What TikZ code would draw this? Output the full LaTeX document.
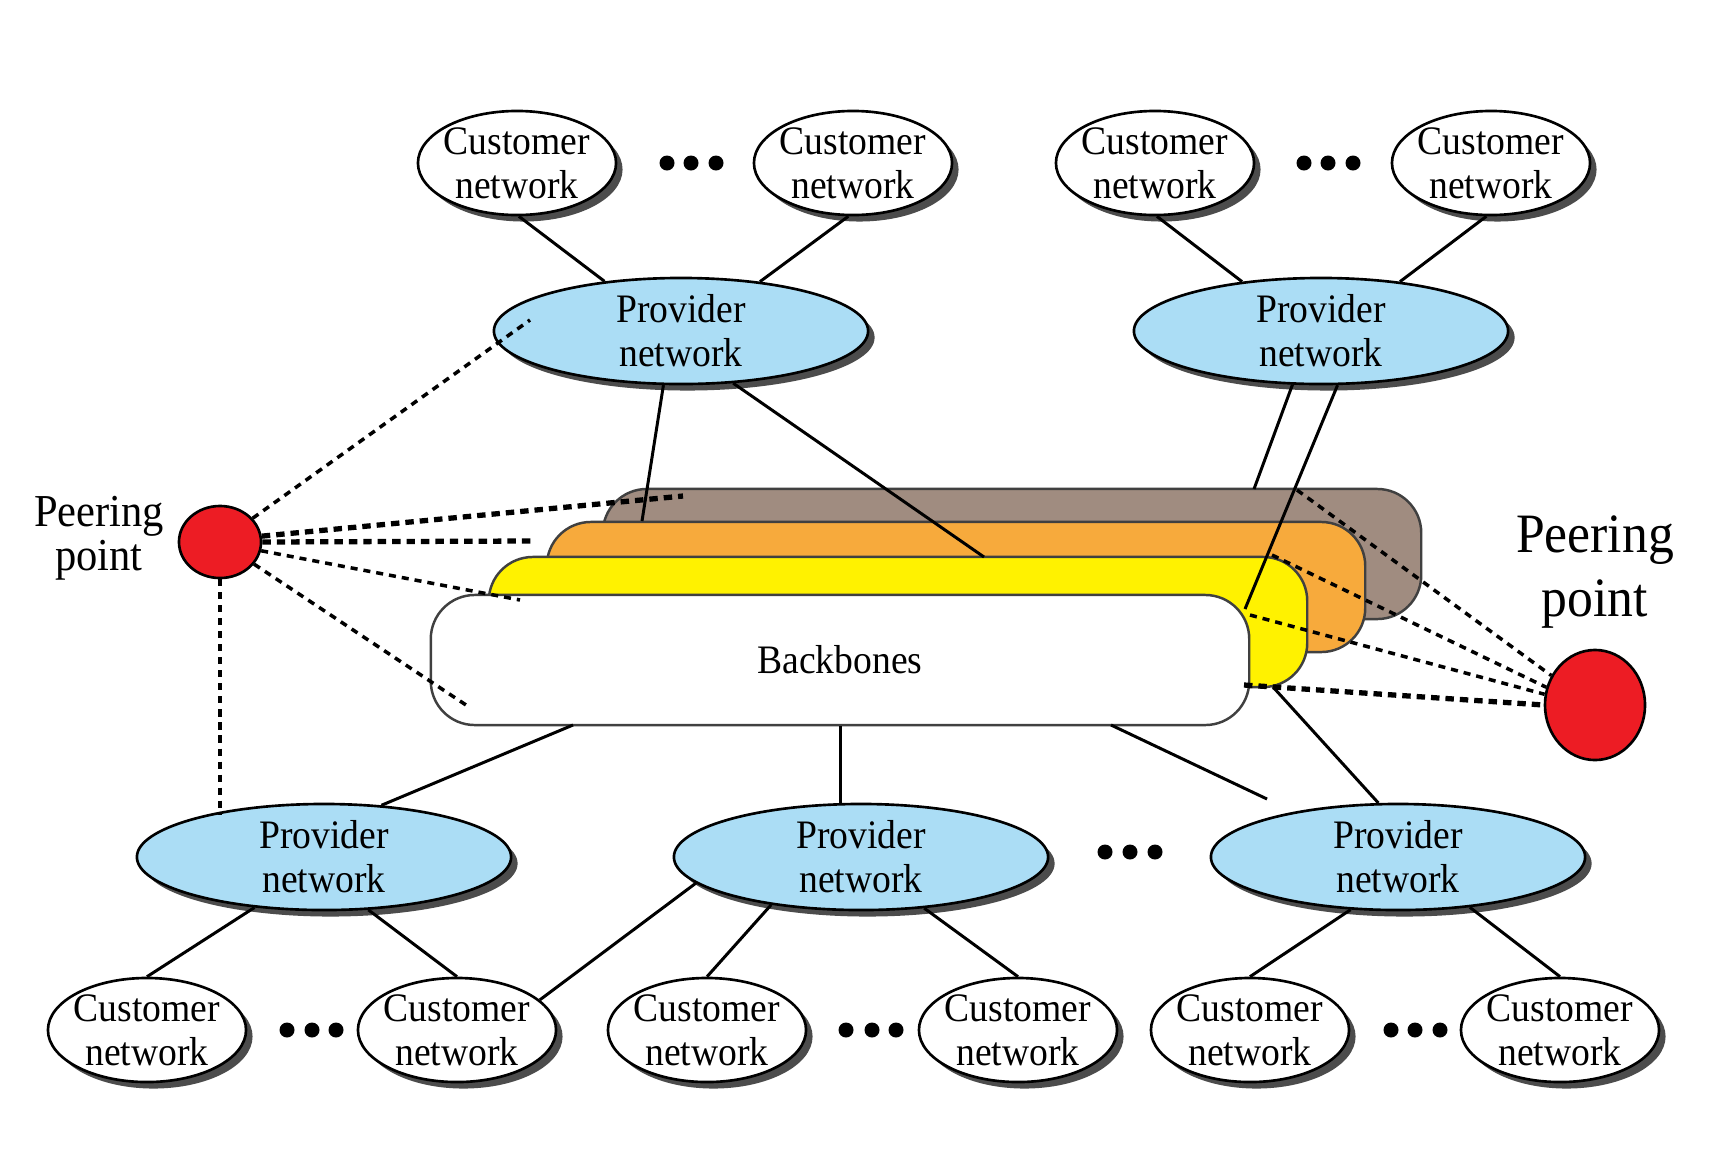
\documentclass[tikz,border=0pt]{standalone}
\usepackage{fontspec}
\setmainfont{Liberation Serif}[FakeStretch=0.93]
\usetikzlibrary{shapes.geometric,shadows}
\definecolor{provblue}{RGB}{171,221,245}
\definecolor{brownc}{RGB}{160,140,128}
\definecolor{orangec}{RGB}{247,170,60}
\definecolor{yellowc}{RGB}{255,242,0}
\definecolor{peerred}{RGB}{237,28,36}
\begin{document}
\begin{tikzpicture}[x=0.01cm,y=-0.01cm,
  net/.style={ellipse, draw=black, line width=0.75pt, inner sep=-2pt, align=center,
    font=\fontsize{11.5}{12.5}\selectfont,
    drop shadow={shadow xshift=0.065cm, shadow yshift=-0.065cm, fill=black!70, opacity=1}},
  cust/.style={net, fill=white, minimum width=1.98cm, minimum height=1.04cm},
  prov/.style={net, fill=provblue, minimum width=3.74cm, minimum height=1.06cm},
  layer/.style={rectangle, draw=black!75, line width=0.7pt, rounded corners=0.44cm,
    minimum width=8.18cm, minimum height=1.3cm, font=\fontsize{11.5}{12.5}\selectfont},
  link/.style={line width=0.85pt},
  dsh/.style={line width=1pt, dash pattern=on 2pt off 1.7pt},
  dshb/.style={line width=1.5pt, dash pattern=on 2.4pt off 1.7pt},
  peer/.style={ellipse, draw=black, fill=peerred, line width=0.75pt, inner sep=0pt},
  dotfill/.style={fill=black}
]
\useasboundingbox (0,0) rectangle (1728,1148);
\fill[white] (0,0) rectangle (1728,1148);

% backbone layers
\node[layer, fill=brownc] (brown) at (1012,554) {};
\node[layer, fill=orangec] (orange) at (956,587) {};
\node[layer, fill=yellowc] (yellow) at (898,622) {};
\node[layer, fill=white] (white) at (840,660) {Backbones};

% customer networks top
\node[cust] (C1) at (517,163) {Customer\\network};
\node[cust] (C2) at (853,163) {Customer\\network};
\node[cust] (C3) at (1155,163) {Customer\\network};
\node[cust] (C4) at (1491,163) {Customer\\network};
% providers
\node[prov] (P1) at (681,331) {Provider\\network};
\node[prov] (P2) at (1321,331) {Provider\\network};
\node[prov] (P3) at (324,857) {Provider\\network};
\node[prov] (P4) at (861,857) {Provider\\network};
\node[prov] (P5) at (1398,857) {Provider\\network};
% customer networks bottom
\node[cust] (B1) at (147,1030) {Customer\\network};
\node[cust] (B2) at (457,1030) {Customer\\network};
\node[cust] (B3) at (707,1030) {Customer\\network};
\node[cust] (B4) at (1018,1030) {Customer\\network};
\node[cust] (B5) at (1250,1030) {Customer\\network};
\node[cust] (B6) at (1560,1030) {Customer\\network};

% peering points
\node[peer, minimum width=0.82cm, minimum height=0.72cm] (L) at (220,542) {};
\node[peer, minimum width=1.0cm, minimum height=1.1cm] (R) at (1595,705) {};
\node[align=center, font=\fontsize{13}{12.5}\selectfont] (lpt) at (99,538) {Peering\\point};
\node[align=center, font=\fontsize{15.8}{18.2}\selectfont] (rpt) at (1595,572) {Peering\\point};

% dots
\foreach \x/\y in {667/163,691/163,716/163,1304/163,1328/163,1353/163,
  287/1030,312/1030,336/1030,846/1030,872/1030,896/1030,1391/1030,1415/1030,1440/1030,
  1105/852,1130/852,1155/852}
  \fill[dotfill] (\x,\y) circle (0.075cm);

% free ends on the backbones
\coordinate (bA) at (642,521);
\coordinate (bB) at (984,557);
\coordinate (bC) at (1254,489);
\coordinate (bD) at (1245,609);
\coordinate (wA) at (573,725);
\coordinate (wC) at (1111,725);
\coordinate (wCe) at (1267,799);
\coordinate (yA) at (1273,687);
\coordinate (dP1) at (530,320);
\coordinate (dBr) at (683,496);
\coordinate (dOr) at (531,541);
\coordinate (dYe) at (520,600);
\coordinate (dWh) at (469,707);
\coordinate (dP3) at (220,815);
\coordinate (rBr) at (1297,490);
\coordinate (rOr) at (1272,555);
\coordinate (rWh) at (1250,615);
\coordinate (rBo) at (1244,685);

% solid links
\draw[link] (C1.-88) -- (P1.147);
\draw[link] (C2.-95) -- (P1.32);
\draw[link] (C3.-88) -- (P2.148);
\draw[link] (C4.-95) -- (P2.32);
\draw[link] (P1.-108) -- (bA);
\draw[link] (P1.-45) -- (bB);
\draw[link] (P2.-118) -- (bC);
\draw[link] (P2.-73) -- (bD);
\draw[link] (wA) -- (P3.42);
\draw[link] (white.south) -- (P4.north -| white.south);
\draw[link] (wC) -- (wCe);
\draw[link] (yA) -- (P5.110);
\draw[link] (P3.-144) -- (B1.north);
\draw[link] (P3.-50) -- (B2.north);
\draw[link] (P4.-152) -- (B3.north);
\draw[link] (P4.-39) -- (B4.north);
\draw[link] (P4.-171) -- (B2.20);
\draw[link] (P5.-132) -- (B5.north);
\draw[link] (P5.-35) -- (B6.north);

% dashed peering links
\draw[dsh] (L.36) -- (dP1);
\draw[dshb] (L.8) -- (dBr);
\draw[dshb] (L.east) -- (dOr);
\draw[dsh] (L.-12) -- (dYe);
\draw[dsh] (L.-33) -- (dWh);
\draw[dsh] (L.south) -- (dP3);
\draw[dsh] (rBr) -- (R.146);
\draw[dsh] (rOr) -- (R.160);
\draw[dsh] (rWh) -- (R.168);
\draw[dshb] (rBo) -- (R.180);
\end{tikzpicture}
\end{document}
